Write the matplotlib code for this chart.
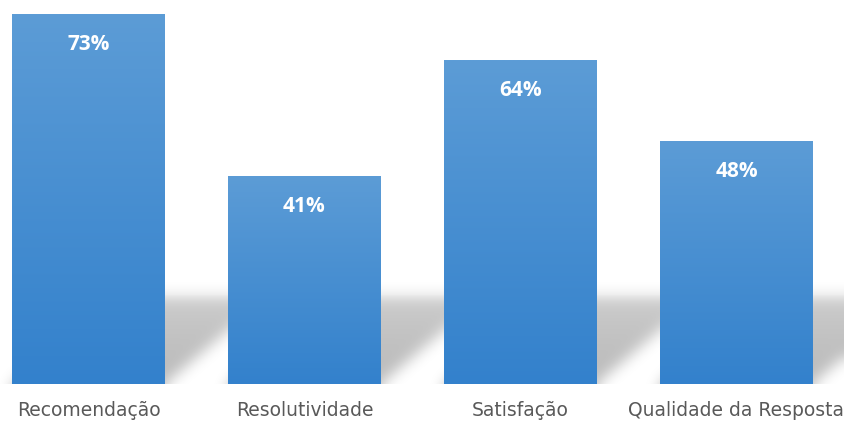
import numpy as np
import matplotlib
matplotlib.use("Agg")
import matplotlib.pyplot as plt
from matplotlib.colors import LinearSegmentedColormap

categories = ["Recomendação", "Resolutividade", "Satisfação", "Qualidade da Resposta"]
values = [73, 41, 64, 48]
labels = ["73%", "41%", "64%", "48%"]

W, H = 845, 421
fig = plt.figure(figsize=(W / 100, H / 100), dpi=100)
base_px = 37
ax = fig.add_axes([0, base_px / H, 1, 1 - base_px / H])

px_per_unit = 216.0
first_center_px = 88.5
xlim = (-first_center_px / px_per_unit, (W - first_center_px) / px_per_unit)
px_per_pct = 5.055
ylim = (0, (H - base_px) / px_per_pct)

x = np.arange(len(categories))
bar_w = 153 / px_per_unit
bars = ax.bar(x, values, width=bar_w, color="none", edgecolor="none", zorder=3)

# shadow (cast to the right of each bar)
nx, ny = W, H - base_px
gx = np.linspace(xlim[0], xlim[1], nx)
gy = np.linspace(ylim[0], ylim[1], ny)
XX, YY = np.meshgrid(gx, gy)
sh_h = 17.5
sh_dx = 105 / px_per_unit
mask = np.zeros_like(XX)
for b in bars:
    xl, xr = b.get_x(), b.get_x() + b.get_width()
    s = YY / sh_h * sh_dx
    inside = (YY <= sh_h) & (XX >= xl + s) & (XX <= xr + s)
    mask[inside] = 1.0

def gblur(a, sigma):
    r = int(3 * sigma)
    k = np.exp(-0.5 * (np.arange(-r, r + 1) / sigma) ** 2)
    k /= k.sum()
    pad = np.pad(a, r, mode="edge")
    tmp = np.apply_along_axis(lambda m: np.convolve(m, k, mode="valid"), 0, pad)
    out = np.apply_along_axis(lambda m: np.convolve(m, k, mode="valid"), 1, tmp)
    return out

mask = gblur(mask, 7)
fade = np.clip(1 - YY / sh_h, 0, 1) ** 0.35
alpha = mask * (0.55 + 0.45 * fade) * 0.27
rgba = np.zeros((ny, nx, 4))
rgba[..., 3] = alpha
ax.imshow(rgba, extent=[xlim[0], xlim[1], ylim[0], ylim[1]], origin="lower",
          aspect="auto", zorder=1, interpolation="bilinear")

# gradient bars
cmap = LinearSegmentedColormap.from_list("g", [(51/255, 129/255, 204/255), (92/255, 156/255, 214/255)])
grad = np.linspace(0, 1, 256).reshape(-1, 1)
for b in bars:
    bx, bw, bh = b.get_x(), b.get_width(), b.get_height()
    ax.imshow(grad, extent=[bx, bx + bw, 0, bh], origin="lower", aspect="auto",
              cmap=cmap, zorder=3, interpolation="bilinear")

for b, lab in zip(bars, labels):
    ax.annotate(lab, (b.get_x() + b.get_width() / 2, b.get_height()),
                xytext=(0, -21.5), textcoords="offset points", ha="center", va="center",
                color="white", fontsize=15, fontweight="bold", family="Open Sans", zorder=5)

ax.set_xlim(*xlim)
ax.set_ylim(*ylim)
ax.set_xticks(x)
ax.set_xticklabels(categories, fontsize=13.5, color="#595959")
ax.tick_params(axis="x", length=0, pad=12)
ax.set_yticks([])
for sp in ax.spines.values():
    sp.set_visible(False)
ax.patch.set_alpha(0)

fig.savefig("out.png", dpi=100, facecolor="white")
